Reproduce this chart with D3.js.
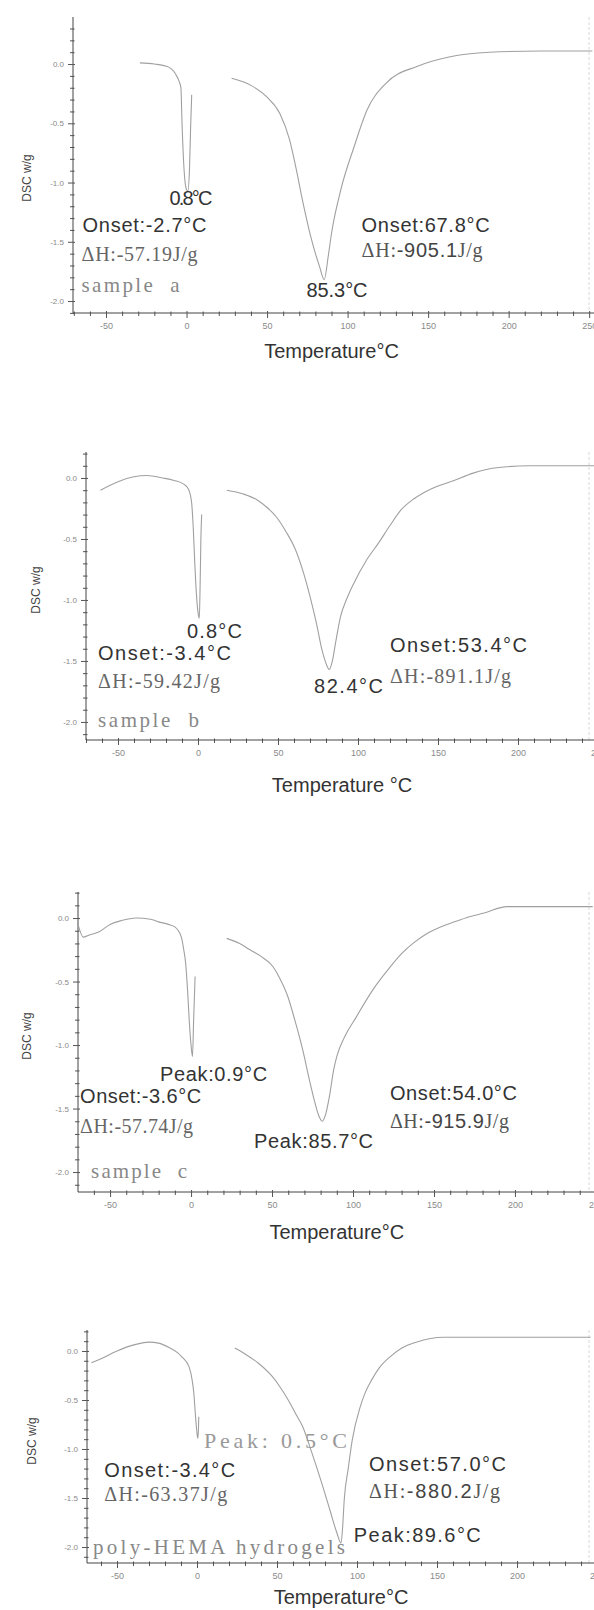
<!DOCTYPE html>
<html>
<head>
<meta charset="utf-8">
<script src="https://cdnjs.cloudflare.com/ajax/libs/d3/7.8.5/d3.min.js"></script>
<style>
  body { margin: 0; background: white; }
  .tick text { fill: #8a8a8a; font-family: Arial, "Liberation Sans", sans-serif; }
  .note { white-space: pre; }
</style>
</head>
<body>
<div id="chart"></div>
<script>
// DSC curves (temperature in deg C, heat flow in w/g)
// null marks the faded gap in the scan right after the ice melting peak
var tempA = [-29, -20, -12, -7, -4.5, -3.5, -2.8, -1.5, 0, 0.8, 1.8, 2.5, 3.2, null,
  28, 40, 50, 58, 64, 68, 72, 77, 82.6, 85.5, 88, 90, 96, 104, 112, 124, 143, 163, 188, 220, 252];
var dscA = [0.01, 0.0, -0.02, -0.08, -0.15, -0.2, -0.5, -0.9, -1.06, -1.07, -0.9, -0.55, -0.26, null,
  -0.12, -0.18, -0.28, -0.42, -0.64, -0.88, -1.15, -1.45, -1.71, -1.82, -1.62, -1.43, -1.05, -0.70, -0.39, -0.16, -0.02, 0.06, 0.10, 0.11, 0.11];

var tempB = [-61, -50, -40, -32, -22, -15, -9, -6, -4, -3, -2, -1, 0.2, 0.8, 1.3, 1.8, 2.3, null,
  18, 28, 37, 43, 49, 55, 61, 66, 70, 74, 77.5, 80, 82, 84, 86, 89, 93, 97.5, 105, 113, 120, 127, 135, 144, 160, 172, 184, 207, 248];
var dscB = [-0.1, -0.03, 0.01, 0.02, 0.0, -0.02, -0.05, -0.09, -0.2, -0.4, -0.7, -0.95, -1.12, -1.15, -0.9, -0.5, -0.3, null,
  -0.1, -0.13, -0.18, -0.24, -0.32, -0.44, -0.59, -0.78, -0.97, -1.19, -1.41, -1.52, -1.57, -1.5, -1.35, -1.14, -0.99, -0.86, -0.68, -0.53, -0.39, -0.26, -0.17, -0.1, -0.02, 0.04, 0.08, 0.1, 0.1];

var tempC = [-70, -66.5, -62, -57, -50, -43, -34, -25, -20, -14, -10, -6, -4.5, -3.3, -2, -1, 0, 0.9, 1.6, 2.5, null,
  22, 30, 36.4, 43, 50.4, 55, 59.8, 64, 69, 73, 76, 79, 81, 83, 85.5, 88, 90, 95, 102, 108, 113.6, 122, 130, 138, 146, 154, 162.6, 172, 181, 195, 210, 248];
var dscC = [-0.04, -0.15, -0.13, -0.11, -0.05, -0.02, 0.0, -0.01, -0.03, -0.05, -0.07, -0.15, -0.25, -0.36, -0.6, -0.83, -1.0, -1.09, -0.8, -0.46, null,
  -0.16, -0.2, -0.25, -0.3, -0.38, -0.48, -0.62, -0.8, -1.04, -1.27, -1.43, -1.56, -1.6, -1.55, -1.4, -1.2, -1.09, -0.93, -0.78, -0.65, -0.54, -0.4, -0.28, -0.19, -0.12, -0.07, -0.03, 0.01, 0.04, 0.09, 0.09, 0.09];

var tempD = [-66, -60, -50, -40, -30, -24, -17, -12, -9.5, -5, -3, -2, -1, 0, 0.5, 0.9, 1.1, null,
  23.6, 30, 38, 47, 52, 57, 62, 66, 72, 78, 83, 87.5, 90, 91, 92, 94.5, 97, 102, 105, 109, 114, 120.6, 128, 137, 154, 184, 246];
var dscD = [-0.12, -0.08, 0.0, 0.06, 0.09, 0.08, 0.03, -0.02, -0.06, -0.16, -0.3, -0.43, -0.65, -0.84, -0.89, -0.8, -0.67, null,
  0.03, -0.03, -0.12, -0.26, -0.37, -0.5, -0.65, -0.77, -1.05, -1.35, -1.62, -1.86, -1.96, -1.8, -1.52, -1.2, -0.91, -0.57, -0.43, -0.3, -0.17, -0.06, 0.03, 0.09, 0.14, 0.14, 0.14];

// tick labels
var xTickValues = [-50, 0, 50, 100, 150, 200, 250];
var yTickValues = [0, -0.5, -1, -1.5, -2];
var xTitles = ["Temperature°C", "Temperature °C", "Temperature°C", "Temperature°C"];
var yTitle = "DSC w/g";

// annotations: text, style, anchor in data units, printed width
var notesA = [
  ["0.8°C", "sans", -10.6, -1.19, 43],
  ["Onset:-2.7°C", "sans", -64.6, -1.42, 124],
  ["ΔH:-57.19J/g", "serif", -65.2, -1.66, 116],
  ["sample  a", "label", -65.2, -1.92, 98],
  ["Onset:67.8°C", "sans", 108.7, -1.42, 128],
  ["ΔH:|-905.1|J/g", "mixed", 108.7, -1.63, 121],
  ["85.3°C", "sans", 74.5, -1.97, 61]
];
var notesB = [
  ["0.8°C", "sans", -6.9, -1.31, 55],
  ["Onset:-3.4°C", "sans", -62.5, -1.49, 133],
  ["ΔH:-59.42J/g", "serif", -62.5, -1.72, 122],
  ["sample  b", "label", -62.5, -2.04, 101],
  ["82.4°C", "sans", 72.5, -1.76, 69],
  ["Onset:53.4°C", "sans", 120, -1.43, 137],
  ["ΔH:-891.1J/g", "serif", 120, -1.68, 121]
];
var notesC = [
  ["Peak:0.9°C", "sans", -19.1, -1.28, 107],
  ["Onset:-3.6°C", "sans", -68.5, -1.46, 121],
  ["ΔH:-57.74J/g", "serif", -68.5, -1.69, 113],
  ["sample  c", "label", -61.7, -2.05, 96],
  ["Peak:85.7°C", "sans", 38.9, -1.81, 119],
  ["Onset:54.0°C", "sans", 122.8, -1.43, 127],
  ["ΔH:|-915.9|J/g", "mixed", 122.8, -1.65, 119]
];
var notesD = [
  ["Peak: 0.5°C", "faint", 4.4, -0.99, 143],
  ["Onset:-3.4°C", "sans", -58, -1.29, 131],
  ["ΔH:-63.37J/g", "serif", -58, -1.53, 123],
  ["poly-HEMA hydrogels", "label", -65, -2.07, 252],
  ["Onset:57.0°C", "sans", 107.5, -1.22, 137],
  ["ΔH:|-880.2|J/g", "mixed", 107.5, -1.5, 131],
  ["Peak:89.6°C", "sans", 98, -1.95, 127]
];

// panel frames in page pixels
var panels = [
  { temp: tempA, dsc: dscA, notes: notesA, left: 73, top: 17, bottom: 313, xDomain: [-70.5, 253], yDomain: [0.397, -2.101], yLab: [27, 178], titleY: 358 },
  { temp: tempB, dsc: dscB, notes: notesB, left: 86, top: 452, bottom: 740, xDomain: [-70, 247.5], yDomain: [0.213, -2.148], yLab: [36, 590], titleY: 792 },
  { temp: tempC, dsc: dscC, notes: notesC, left: 78, top: 892, bottom: 1192, xDomain: [-69.8, 248.8], yDomain: [0.205, -2.157], yLab: [27, 1036], titleY: 1239 },
  { temp: tempD, dsc: dscD, notes: notesD, left: 87, top: 1330, bottom: 1563, xDomain: [-68.75, 248.1], yDomain: [0.214, -2.163], yLab: [32, 1441], titleY: 1604 }
];

var svgWidth = 594;
var svgHeight = 1610;
var sansFont = "Arial, 'Liberation Sans', sans-serif";
var serifFont = "'Times New Roman', 'Liberation Serif', serif";

var svg = d3.select("#chart")
  .append("svg")
  .attr("width", svgWidth)
  .attr("height", svgHeight)
  .style("background", "white");

panels.forEach(function(p, pi) {
  var g = svg.append("g");

  var xScale = d3.scaleLinear().domain(p.xDomain).range([p.left, svgWidth]);
  var yScale = d3.scaleLinear().domain(p.yDomain).range([p.top, p.bottom]);

  // faded right frame of the original plot
  g.append("line")
    .attr("x1", svgWidth - 5).attr("x2", svgWidth - 5)
    .attr("y1", p.top).attr("y2", p.bottom)
    .attr("stroke", "#d8d8d8")
    .attr("stroke-dasharray", "3,2");

  // minor ticks every 10 deg / 0.1 w/g
  var xMinor = d3.range(-70, 251, 10).filter(d => d % 50 !== 0 && d >= p.xDomain[0]);
  var yMinor = d3.range(-21, 5).map(d => d / 10)
    .filter(d => Math.round(d * 10) % 5 !== 0 && d <= p.yDomain[0] && d >= p.yDomain[1]);

  var xMinorAxis = g.append("g")
    .attr("transform", `translate(0, ${p.bottom})`)
    .call(d3.axisBottom(xScale).tickValues(xMinor).tickSize(3).tickFormat(""));
  var yMinorAxis = g.append("g")
    .attr("transform", `translate(${p.left}, 0)`)
    .call(d3.axisLeft(yScale).tickValues(yMinor).tickSize(3).tickFormat(""));

  var xAxis = g.append("g")
    .attr("transform", `translate(0, ${p.bottom})`)
    .call(d3.axisBottom(xScale).tickValues(xTickValues).tickSize(5).tickPadding(5).tickFormat(d => d));
  var yAxis = g.append("g")
    .attr("transform", `translate(${p.left}, 0)`)
    .call(d3.axisLeft(yScale).tickValues(yTickValues).tickSize(5).tickPadding(4).tickFormat(d => d.toFixed(1)));

  [xMinorAxis, yMinorAxis, xAxis, yAxis].forEach(function(a) {
    a.selectAll(".domain").attr("stroke", "#444");
    a.selectAll(".tick line").attr("stroke", "#555");
  });
  // ticks cross the axis line a little
  xAxis.selectAll(".tick line").attr("y1", -2);
  xMinorAxis.selectAll(".tick line").attr("y1", -1.5);
  yAxis.selectAll(".tick line").attr("x1", 2);
  yMinorAxis.selectAll(".tick line").attr("x1", 1.5);
  xAxis.selectAll(".tick text").attr("font-size", 9);
  yAxis.selectAll(".tick text").attr("font-size", 8);
  // the axis line itself runs across the whole page
  xAxis.select(".domain").attr("d", `M${p.left},0H${svgWidth}`);
  yAxis.select(".domain").attr("d", `M0,${p.top}V${p.bottom}`);
  xMinorAxis.select(".domain").remove();
  yMinorAxis.select(".domain").remove();

  // DSC trace
  var pts = p.temp.map((t, i) => ({ t: t, v: p.dsc[i] }));
  var line = d3.line()
    .defined(d => d.t !== null && d.v !== null)
    .x(d => xScale(d.t))
    .y(d => yScale(d.v))
    .curve(d3.curveMonotoneX);

  g.append("path")
    .datum(pts)
    .attr("d", line)
    .attr("fill", "none")
    .attr("stroke", "#a0a0a0")
    .attr("stroke-width", 1.1);

  // axis titles
  g.append("text")
    .attr("transform", `translate(${p.yLab[0]}, ${p.yLab[1]}) rotate(-90)`)
    .attr("text-anchor", "middle")
    .attr("dy", "0.35em")
    .attr("font-family", sansFont)
    .attr("font-size", 12)
    .attr("fill", "#444")
    .text(yTitle);

  g.append("text")
    .attr("x", xScale(90))
    .attr("y", p.titleY)
    .attr("text-anchor", "middle")
    .attr("font-family", sansFont)
    .attr("font-size", 20)
    .attr("fill", "#333")
    .text(xTitles[pi]);

  // peak / onset / enthalpy annotations
  p.notes.forEach(function(n) {
    var txt = g.append("text")
      .classed("note", true)
      .attr("x", xScale(n[2]))
      .attr("y", yScale(n[3]))
      .attr("textLength", n[4])
      .attr("lengthAdjust", "spacing")
      .attr("font-size", 20);

    if (n[1] === "sans") {
      txt.attr("font-family", sansFont).attr("fill", "#333").text(n[0]);
    }
    else if (n[1] === "serif") {
      txt.attr("font-family", serifFont).attr("fill", "#666").text(n[0]);
    }
    else if (n[1] === "label") {
      txt.attr("font-family", serifFont).attr("font-size", 21).attr("fill", "#888").text(n[0]);
    }
    else if (n[1] === "faint") {
      txt.attr("font-family", serifFont).attr("font-size", 22).attr("fill", "#999").text(n[0]);
    }
    else {
      // mixed: serif symbol and unit, sans number
      var parts = n[0].split("|");
      txt.attr("fill", "#555");
      txt.append("tspan").attr("font-family", serifFont).text(parts[0]);
      txt.append("tspan").attr("font-family", sansFont).attr("fill", "#444").text(parts[1]);
      txt.append("tspan").attr("font-family", serifFont).text(parts[2]);
    }
  });
});
</script>
</body>
</html>
